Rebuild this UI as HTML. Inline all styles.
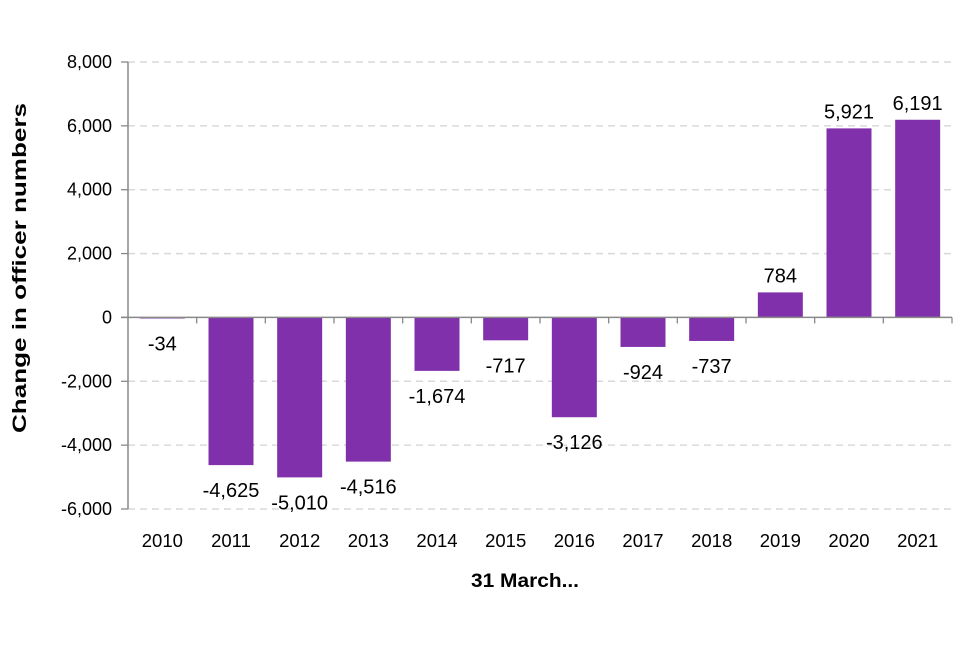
<!DOCTYPE html>
<html><head><meta charset="utf-8"><style>
body{margin:0;background:#fff;}
svg text{font-family:"Liberation Sans",sans-serif;fill:#000;}
</style></head><body>
<svg id="chart" width="960" height="640" xmlns="http://www.w3.org/2000/svg"></svg>
<script>
const categories=["2010","2011","2012","2013","2014","2015","2016","2017","2018","2019","2020","2021"];
const values=[-34,-4625,-5010,-4516,-1674,-717,-3126,-924,-737,784,5921,6191];
const valueLabels=["-34","-4,625","-5,010","-4,516","-1,674","-717","-3,126","-924","-737","784","5,921","6,191"];
const yTicks=[-6000,-4000,-2000,0,2000,4000,6000,8000];
const yTickLabels=["-6,000","-4,000","-2,000","0","2,000","4,000","6,000","8,000"];
const svg=document.getElementById('chart');
const NS="http://www.w3.org/2000/svg";
const L=128,R=952,T=62,B=509,yMin=-6000,yMax=8000;
const y=v=>B-(v-yMin)/(yMax-yMin)*(B-T);
const bw=(R-L)/categories.length;
const x=i=>L+bw*(i+0.5);
function mk(tag,attrs,txt){const e=document.createElementNS(NS,tag);for(const k in attrs)e.setAttribute(k,attrs[k]);if(txt!==undefined)e.textContent=txt;svg.appendChild(e);return e;}
yTicks.forEach((t,i)=>{
 if(t!==0){const g=mk('line',{x1:L,x2:R,y1:y(t),y2:y(t),stroke:'#d9d9d9','stroke-width':1.5,'stroke-dasharray':'7,5'});
 
 }
 const tk=mk('line',{x1:L-7,x2:L,y1:y(t),y2:y(t),stroke:'#888','stroke-width':1.3});
 
 
 const lb=mk('text',{x:L-16,y:y(t)+6,'text-anchor':'end','font-size':18},yTickLabels[i]);
 
 
});
values.forEach((v,i)=>{
 const w=45,top=Math.min(y(v),y(0)),h=Math.abs(y(v)-y(0));
 const r=mk('rect',{x:x(i)-w/2,y:top,width:w,height:h,fill:'#8030aa'});
 
 
 const ly=v>=0?y(v)-10:y(v)+32;
 const t=mk('text',{x:x(i),y:ly,'text-anchor':'middle','font-size':20},valueLabels[i]);
 
 
 const c=mk('text',{x:x(i),y:547,'text-anchor':'middle','font-size':18.5},categories[i]);
 
 
});
for(let i=1;i<=categories.length;i++){
 const tk=mk('line',{x1:L+bw*i,x2:L+bw*i,y1:y(0),y2:y(0)+6,stroke:'#888','stroke-width':1.3});
 
 
}
const za=mk('line',{x1:L-7,x2:R,y1:y(0),y2:y(0),stroke:'#888','stroke-width':1.5});


const ya=mk('line',{x1:L,x2:L,y1:T,y2:B,stroke:'#888','stroke-width':1.5});


const yt=mk('text',{x:0,y:0,'text-anchor':'middle','font-size':19,'font-weight':'bold',textLength:330,lengthAdjust:'spacingAndGlyphs',transform:'translate(26,268) rotate(-90)'},'Change in officer numbers');


const xt=mk('text',{x:525,y:587,'text-anchor':'middle','font-size':19,'font-weight':'bold',textLength:108,lengthAdjust:'spacingAndGlyphs'},'31 March...');


</script>
</body></html>
